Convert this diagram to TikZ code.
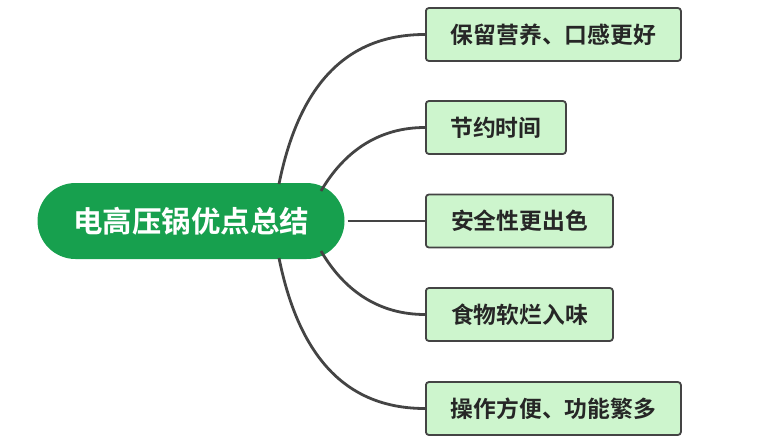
\documentclass[tikz,border=0pt]{standalone}
\usepackage{fontspec}
\newfontfamily\cjk{Noto Sans CJK SC}[BoldFont={Noto Sans CJK SC Bold}]
\definecolor{rootgreen}{HTML}{17A04E}
\definecolor{leaffill}{HTML}{CDF5CD}
\definecolor{edgegray}{HTML}{444444}
\begin{document}
\begin{tikzpicture}[x=1pt,y=-1pt,
  root/.style={fill=rootgreen, draw=none, rounded corners=38pt, minimum width=307pt, minimum height=76pt, inner sep=0pt,
     text=white, font=\cjk\bfseries\fontsize{29.5}{31}\selectfont},
  leaf/.style={fill=leaffill, draw=edgegray, line width=1.8pt, rounded corners=3pt, minimum height=53pt, inner sep=0pt,
     anchor=west, text=black!85, font=\cjk\bfseries\fontsize{22.8}{25}\selectfont},
  conn/.style={draw=edgegray, line width=2.8pt}]
\useasboundingbox (0,0) rectangle (776,444);
\node[root] (r) at (191,221) {电高压锅优点总结};
\node[leaf, minimum width=255pt] (a) at (425,34.5) {保留营养、口感更好};
\node[leaf, minimum width=140pt] (b) at (425,127.5) {节约时间};
\node[leaf, minimum width=187pt] (c) at (425,221) {安全性更出色};
\node[leaf, minimum width=187pt] (d) at (425,314.5) {食物软烂入味};
\node[leaf, minimum width=255pt] (e) at (425,408.5) {操作方便、功能繁多};
\coordinate (s1) at (279,184);
\coordinate (s2) at (321,191);
\coordinate (s4) at (321,251);
\coordinate (s5) at (279,258);
\draw[conn] (s1) .. controls (300,80) and (350,34.5) .. (a.west);
\draw[conn] (s2) .. controls (345,150) and (380,127.5) .. (b.west);
\draw[conn] (r.east) ++(3,0) -- (c.west);
\draw[conn] (s4) .. controls (345,292) and (380,314.5) .. (d.west);
\draw[conn] (s5) .. controls (300,362) and (350,408.5) .. (e.west);
\end{tikzpicture}
\end{document}
